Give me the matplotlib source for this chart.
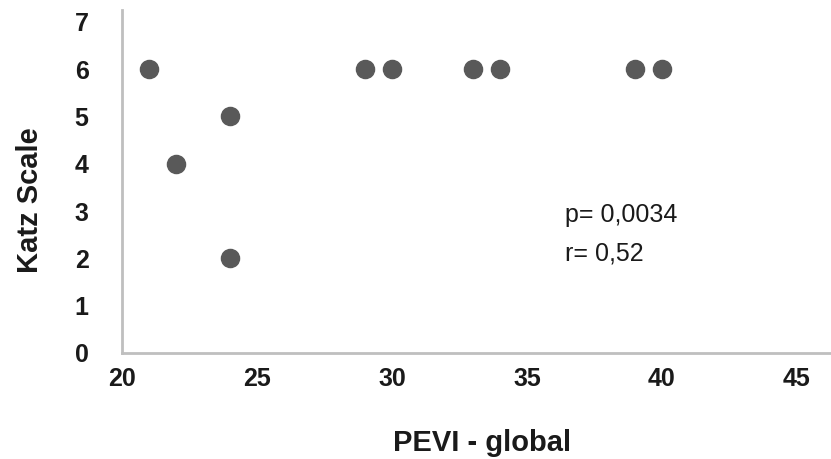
import matplotlib
matplotlib.use('Agg')
import matplotlib.pyplot as plt

plt.rcParams['font.family'] = ['Liberation Sans Narrow', 'Liberation Sans', 'DejaVu Sans']

# data
pevi = [21, 22, 24, 24, 29, 30, 33, 34, 39, 40]
katz = [6, 4, 5, 2, 6, 6, 6, 6, 6, 6]
xticks = [20, 25, 30, 35, 40, 45]
yticks = [0, 1, 2, 3, 4, 5, 6, 7]

fig = plt.figure(figsize=(8.31, 4.59), dpi=100, facecolor='white')
ax = fig.add_axes([122/831, 1-353/459, 1-122/831, (353-10)/459])

ax.scatter(pevi, katz, s=170, color='#595959', zorder=3, clip_on=False)

ax.set_xlim(20, 46.26)
ax.set_ylim(0, 7.25)
ax.set_xticks(xticks)
ax.set_yticks(yticks)
ax.tick_params(length=0, labelsize=18, colors='#1a1a1a')
ax.tick_params(axis='x', pad=10)
ax.tick_params(axis='y', pad=24)
for lab in ax.get_xticklabels() + ax.get_yticklabels():
    lab.set_fontweight('bold')

for s in ['top', 'right']:
    ax.spines[s].set_visible(False)
for s in ['left', 'bottom']:
    ax.spines[s].set_color('#bfbfbf')
    ax.spines[s].set_linewidth(2)

fig.text(482/831, 1-443/459, 'PEVI - global', ha='center', va='center',
         fontsize=21, fontweight='bold', color='#1a1a1a')
fig.text(30/831, 1-200/459, 'Katz Scale', ha='center', va='center', rotation=90,
         fontsize=21, fontweight='bold', color='#1a1a1a')

fig.text(565/831, 1-215/459, 'p= 0,0034', ha='left', va='center', fontsize=18, color='#1a1a1a')
fig.text(565/831, 1-254/459, 'r= 0,52', ha='left', va='center', fontsize=18, color='#1a1a1a')

fig.savefig('out.png', dpi=100)
